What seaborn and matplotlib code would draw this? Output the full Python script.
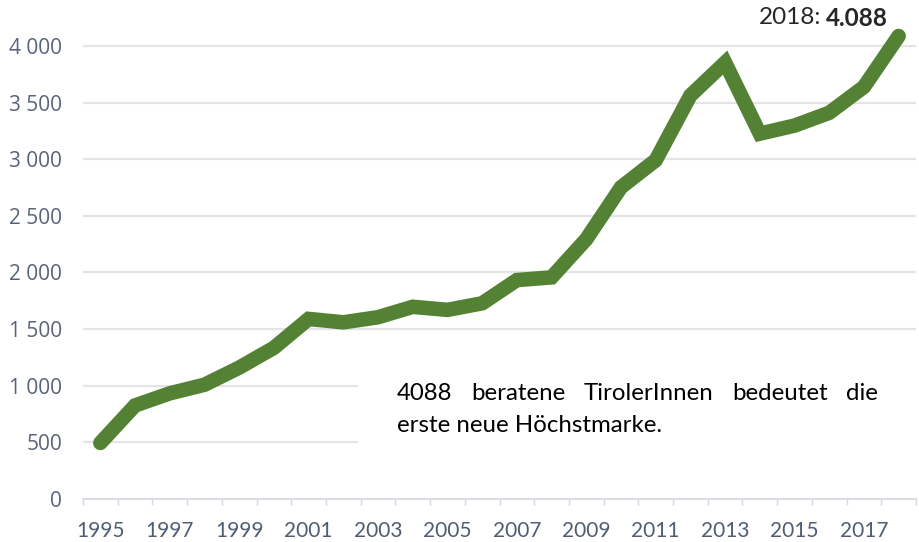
import numpy as np
import pandas as pd
import matplotlib
matplotlib.use('Agg')
import matplotlib.pyplot as plt
import seaborn as sns
from matplotlib.patches import Rectangle
from matplotlib.ticker import FuncFormatter

# Beratene TirolerInnen pro Jahr
years = list(range(1995, 2019))
beratene = [495, 826, 933, 1009, 1160, 1335, 1590, 1560, 1605, 1697, 1670, 1728,
            1933, 1957, 2294, 2752, 2991, 3563, 3853, 3226, 3297, 3410, 3639, 4088]
yticks = [0, 500, 1000, 1500, 2000, 2500, 3000, 3500, 4000]
xticklabels = [1995, 1997, 1999, 2001, 2003, 2005, 2007, 2009, 2011, 2013, 2015, 2017]
note_line1 = ['4088', 'beratene', 'TirolerInnen', 'bedeutet', 'die']
note_line2 = 'erste neue Höchstmarke.'
head_label = '2018:'
head_value = '4.088'

df = pd.DataFrame({'Jahr': years, 'Beratene': beratene})

sns.set_theme(style='white')
plt.rcParams['font.family'] = ['Lato', 'DejaVu Sans']

W, H = 919, 542
fig = plt.figure(figsize=(W / 100, H / 100), dpi=100)
ax = fig.add_axes([83 / W, (H - 499) / H, (916 - 83) / W, 499 / H])

sns.lineplot(data=df, x='Jahr', y='Beratene', ax=ax, color='#548235', lw=10.5,
             solid_capstyle='round', solid_joinstyle='miter', clip_on=False, zorder=5)

ax.set_xlim(1994.5, 2018.5)
ax.set_ylim(0, 4406)
ax.set_xlabel('')
ax.set_ylabel('')

# y axis
ax.set_yticks(yticks)
ax.yaxis.set_major_formatter(FuncFormatter(lambda v, p: f'{int(v):,}'.replace(',', ' ')))
ax.tick_params(axis='y', length=0, pad=15, labelsize=15, labelcolor='#5a6478')
for lab in ax.get_yticklabels():
    lab.set_family(['Open Sans', 'DejaVu Sans'])
for v in yticks[1:]:
    ax.axhline(v, color='#e4e4e6', lw=1.6, zorder=1)

# x axis
ax.set_xticks(xticklabels)
ax.set_xticklabels([str(y) for y in xticklabels])
ax.set_xticks([y - 0.5 for y in years] + [years[-1] + 0.5], minor=True)
ax.tick_params(axis='x', which='major', length=0, pad=16, labelsize=15, labelcolor='#4f5d73')
ax.tick_params(axis='x', which='minor', length=4, width=1, color='#d3d8df', direction='out', bottom=True)
for s in ['top', 'right', 'left']:
    ax.spines[s].set_visible(False)
ax.spines['bottom'].set_color('#d3d8df')
ax.spines['bottom'].set_linewidth(1.2)

# white box behind the note
fig.add_artist(Rectangle((358 / W, (H - 465) / H), (916 - 358) / W, 120 / H,
                         transform=fig.transFigure, facecolor='white', edgecolor='none', zorder=1))

# justified first line
x0, x1 = 397, 878
fs = 17.3
texts = [fig.text(0, (H - 393) / H, w, fontsize=fs, color='black', va='center', ha='left', zorder=3)
         for w in note_line1]
fig.text(x0 / W, (H - 425) / H, note_line2, fontsize=fs, color='black', va='center', ha='left', zorder=3)

# header value
hv = fig.text(888 / W, (H - 18) / H, head_value, fontsize=17.5, fontweight='bold', ha='right', va='center')
hl = fig.text(0, (H - 18) / H, head_label, fontsize=17.5, ha='right', va='center')

fig.canvas.draw()
r = fig.canvas.get_renderer()
widths = [t.get_window_extent(r).width for t in texts]
gap = (x1 - x0 - sum(widths)) / (len(texts) - 1)
x = x0
for t, w in zip(texts, widths):
    t.set_x(x / W)
    x += w + gap
hl.set_x((888 - hv.get_window_extent(r).width - 5) / W)

fig.savefig('out.png', dpi=100)
